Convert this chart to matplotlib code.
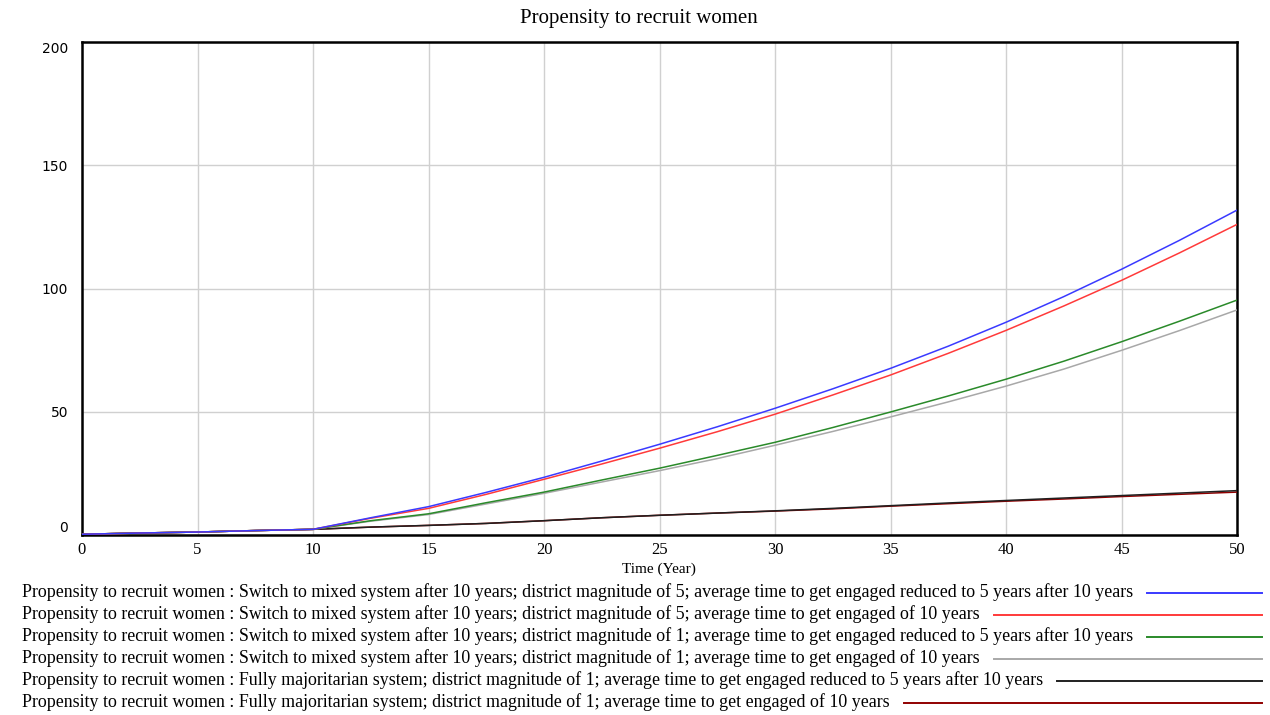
import matplotlib
matplotlib.use("Agg")
import matplotlib.pyplot as plt
from matplotlib.lines import Line2D

# ---- data ----
years = [0, 2.5, 5, 7.5, 10, 12.5, 15, 17.5, 20, 22.5, 25, 27.5, 30,
         32.5, 35, 37.5, 40, 42.5, 45, 47.5, 50]
mixed5_reduced = [0.3, 0.8, 1.2, 1.8, 2.3, 7.0, 11.5, 17.3, 23.4, 30.0, 36.8, 43.9, 51.4,
                  59.3, 67.6, 76.6, 86.3, 96.7, 107.8, 119.5, 131.8]
mixed5_10y = [0.3, 0.8, 1.2, 1.8, 2.3, 6.8, 10.8, 16.5, 22.6, 28.8, 35.2, 41.9, 49.0,
              56.8, 64.9, 73.7, 83.0, 92.9, 103.3, 114.4, 126.0]
mixed1_reduced = [0.3, 0.8, 1.2, 1.8, 2.3, 5.8, 8.6, 13.1, 17.4, 22.3, 27.1, 32.3, 37.6,
                  43.6, 49.9, 56.4, 63.2, 70.5, 78.4, 86.7, 95.3]
mixed1_10y = [0.3, 0.8, 1.2, 1.8, 2.3, 5.6, 8.3, 12.6, 16.9, 21.5, 26.1, 31.0, 36.4,
              42.0, 47.9, 54.0, 60.4, 67.3, 74.9, 82.9, 91.3]
major_reduced = [0.3, 0.8, 1.2, 1.8, 2.3, 3.2, 3.9, 4.7, 5.8, 7.0, 8.0, 8.9, 9.8,
                 10.8, 11.9, 13.0, 14.0, 15.0, 16.0, 17.0, 18.0]
major_10y = [0.3, 0.8, 1.2, 1.8, 2.3, 3.2, 3.9, 4.7, 5.8, 7.0, 8.0, 8.9, 9.7,
             10.6, 11.7, 12.7, 13.7, 14.6, 15.6, 16.5, 17.4]

series = [mixed5_reduced, mixed5_10y, mixed1_reduced, mixed1_10y, major_reduced, major_10y]
labels = [
    "Propensity to recruit women : Switch to mixed system after 10 years; district magnitude of 5; average time to get engaged reduced to 5 years after 10 years",
    "Propensity to recruit women : Switch to mixed system after 10 years; district magnitude of 5; average time to get engaged of 10 years",
    "Propensity to recruit women : Switch to mixed system after 10 years; district magnitude of 1; average time to get engaged reduced to 5 years after 10 years",
    "Propensity to recruit women : Switch to mixed system after 10 years; district magnitude of 1; average time to get engaged of 10 years",
    "Propensity to recruit women : Fully majoritarian system; district magnitude of 1; average time to get engaged reduced to 5 years after 10 years",
    "Propensity to recruit women : Fully majoritarian system; district magnitude of 1; average time to get engaged of 10 years",
]
colors = ["#3a3aff", "#ff3a3a", "#2a8a2a", "#a8a8a8", "#202020", "#900000"]
x_ticks = [0, 5, 10, 15, 20, 25, 30, 35, 40, 45, 50]
y_ticks = [0, 50, 100, 150, 200]

W, H = 1270, 715
fig = plt.figure(figsize=(W / 100, H / 100), dpi=100)
ax = fig.add_axes([82 / W, 1 - 535 / H, (1237 - 82) / W, (535 - 42) / H])

n = len(series)
for i in range(n - 1, -1, -1):
    ax.plot(years, series[i], color=colors[i], lw=1.1, zorder=3 + (n - i))

ax.set_xlim(0, 50)
ax.set_ylim(0, 200)
ax.set_xticks(x_ticks)
ax.set_yticks(y_ticks)
ax.grid(True, color="#d0d0d0", lw=1.0)
ax.set_axisbelow(True)
ax.tick_params(axis="x", length=0, pad=5)
ax.set_xticklabels([str(t) for t in x_ticks], family="Liberation Serif", fontsize=12)
ax.set_yticklabels([str(t) for t in y_ticks], family="DejaVu Sans", fontsize=10)
ylabs = ax.get_yticklabels()
ylabs[0].set_va("bottom")
ylabs[-1].set_va("top")
ax.tick_params(axis="y", length=0, pad=10)
for sp in ax.spines.values():
    sp.set_linewidth(1.8)
    sp.set_color("black")

fig.text(639 / W, 1 - 19 / H, "Propensity to recruit women", ha="center", va="center",
         family="Liberation Serif", fontsize=15)
fig.text(659 / W, 1 - 569 / H, "Time (Year)", ha="center", va="center",
         family="Liberation Serif", fontsize=11)

fig.canvas.draw()
renderer = fig.canvas.get_renderer()
y0 = 592
for i, (lab, c) in enumerate(zip(labels, colors)):
    yp = y0 + 22 * i
    t = fig.text(22 / W, 1 - yp / H, lab, ha="left", va="center",
                 family="Liberation Serif", fontsize=12.9)
    bb = t.get_window_extent(renderer)
    x_start = bb.x1 + 14
    fig.add_artist(Line2D([x_start / W, 1262 / W], [1 - (yp + 1) / H, 1 - (yp + 1) / H],
                          color=c, lw=1.4, transform=fig.transFigure))

fig.savefig("out.png", dpi=100)
